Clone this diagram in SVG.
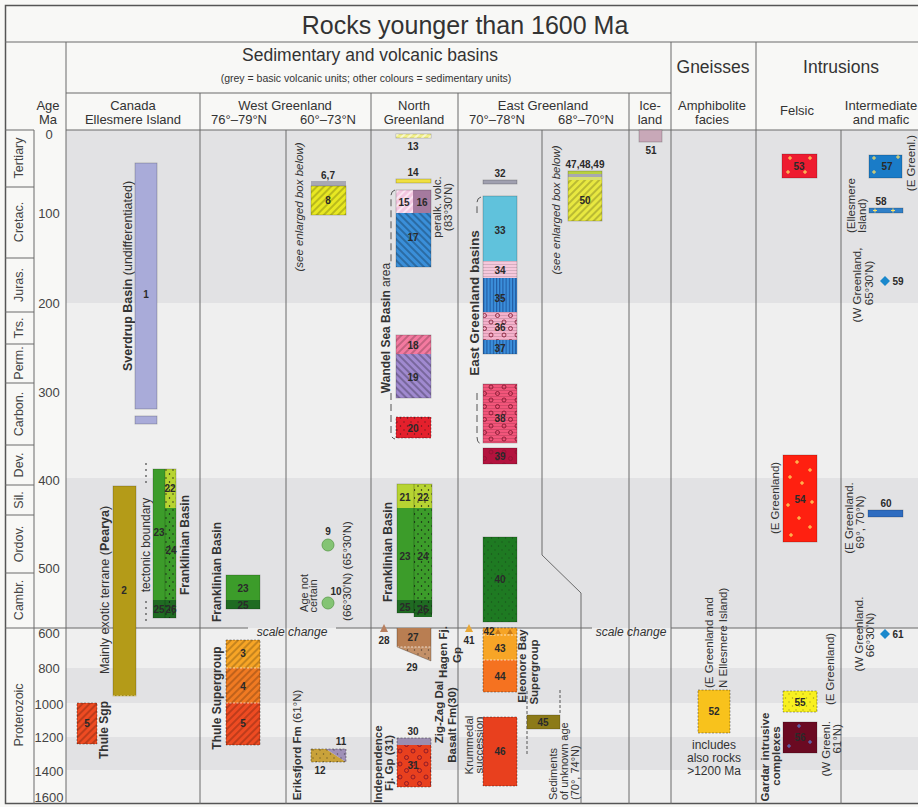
<svg xmlns="http://www.w3.org/2000/svg" width="918" height="807" viewBox="0 0 918 807">
<defs>
<style>
text{font-family:"Liberation Sans",Arial,sans-serif;fill:#333}
.ttl{font-size:25px;text-anchor:middle}
.h1{font-size:17.5px;text-anchor:middle}
.sub{font-size:10.5px;text-anchor:middle}
.h2{font-size:13px;text-anchor:middle}
.inc{font-size:12px;text-anchor:middle}
.era{font-size:12.5px;text-anchor:middle;dominant-baseline:central;fill:#444}
.age{font-size:13px;text-anchor:middle;dominant-baseline:central;fill:#444}
.n{font-size:10px;font-weight:bold;text-anchor:middle;dominant-baseline:central;fill:#2a2a2a}
.r{font-size:11.5px;text-anchor:middle;dominant-baseline:central;fill:#333}
.r.s{text-anchor:start}
.r.e{text-anchor:end}
.b{font-weight:bold}
.it{font-style:italic}
.g{stroke:#6a6a6a;stroke-width:1;fill:none}
.bx{stroke:#000;stroke-opacity:.25;stroke-width:.8}
.dt{stroke-dasharray:2 1.5;stroke-opacity:.45}
.py{stroke:#ffe060;stroke-width:1;fill:none}
.pb{stroke:#5a7ad0;stroke-width:1;fill:none}
</style>
<pattern id="hF" width="5" height="5" patternUnits="userSpaceOnUse" patternTransform="rotate(45)"><rect width="2" height="5" fill="#000" fill-opacity="0.2"/></pattern>
<pattern id="hB" width="5" height="5" patternUnits="userSpaceOnUse" patternTransform="rotate(-45)"><rect width="2" height="5" fill="#000" fill-opacity="0.25"/></pattern>
<pattern id="hW" width="5" height="5" patternUnits="userSpaceOnUse" patternTransform="rotate(45)"><rect width="2" height="5" fill="#fff" fill-opacity="0.55"/></pattern>
<pattern id="dots" width="7" height="8" patternUnits="userSpaceOnUse"><circle cx="1.5" cy="2" r="0.75" fill="#111"/><circle cx="5" cy="6" r="0.7" fill="#111"/></pattern>
<pattern id="circ" width="13" height="13" patternUnits="userSpaceOnUse"><circle cx="3.5" cy="3.5" r="2" fill="none" stroke="#7a1028" stroke-width="0.8"/><circle cx="10" cy="10" r="2" fill="none" stroke="#7a1028" stroke-width="0.8"/></pattern>
<pattern id="hl" width="4" height="3" patternUnits="userSpaceOnUse"><rect width="4" height="1" fill="#000" fill-opacity="0.13"/></pattern>
<pattern id="vl" width="3.2" height="4" patternUnits="userSpaceOnUse"><rect width="1.1" height="4" fill="#0b2d70" fill-opacity="0.55"/></pattern>
</defs>

<rect width="918" height="807" fill="#f8f8f6"/>

<g id="bands">
<rect x="66" y="130" width="852" height="173" fill="#e2e2e4"/>
<rect x="66" y="303" width="852" height="175" fill="#efefef"/>
<rect x="66" y="478" width="852" height="150" fill="#e2e2e4"/>
<rect x="66" y="628" width="852" height="40" fill="#efefef"/>
<rect x="66" y="668" width="852" height="35" fill="#e2e2e4"/>
<rect x="66" y="703" width="852" height="34" fill="#efefef"/>
<rect x="66" y="737" width="852" height="33" fill="#e2e2e4"/>
<rect x="66" y="770" width="852" height="34" fill="#efefef"/>
</g>

<g id="grid" class="g">
<rect x="5.5" y="5.5" width="930" height="798" stroke="#555" stroke-width="1.5"/>
<path d="M5 42H918M66 93H671M5 130H34M66 130H918"/>
<path d="M34 130V804M66 42V804M200 93V804M286 130V804M371 93V804M458 93V804M629 93V804M671 42V804M756 42V804M841 130V804"/>
<path d="M542 130V555L581 593V804"/>
<path d="M5 187H34M5 258H34M5 312H34M5 344H34M5 383H34M5 445H34M5 485H34M5 515H34M5 573H34"/>
<path d="M5 628H248M336 628H592M671 628H918"/>
</g>

<g id="title">
<text class="ttl" x="465" y="34">Rocks younger than 1600 Ma</text>
<text class="h1" x="370" y="61">Sedimentary and volcanic basins</text>
<text class="sub" x="366" y="82">(grey = basic volcanic units; other colours = sedimentary units)</text>
<text class="h1" x="713" y="73">Gneisses</text>
<text class="h1" x="841" y="73">Intrusions</text>
</g>

<g id="headers">
<text class="h2" x="48" y="109.5">Age</text>
<text class="h2" x="48" y="123.5">Ma</text>
<text class="h2" x="133" y="109.5">Canada</text>
<text class="h2" x="133" y="123.5">Ellesmere Island</text>
<text class="h2" x="285" y="109.5">West Greenland</text>
<text class="h2" x="239" y="123.5">76°–79°N</text>
<text class="h2" x="328" y="123.5">60°–73°N</text>
<text class="h2" x="414" y="109.5">North</text>
<text class="h2" x="414" y="123.5">Greenland</text>
<text class="h2" x="543" y="109.5">East Greenland</text>
<text class="h2" x="497" y="123.5">70°–78°N</text>
<text class="h2" x="586" y="123.5">68°–70°N</text>
<text class="h2" x="650" y="109.5">Ice-</text>
<text class="h2" x="650" y="123.5">land</text>
<text class="h2" x="712" y="109.5">Amphibolite</text>
<text class="h2" x="712" y="123.5">facies</text>
<text class="h2" x="797" y="115">Felsic</text>
<text class="h2" x="881" y="109.5">Intermediate</text>
<text class="h2" x="881" y="123.5">and mafic</text>
</g>

<g id="eras">
<text class="era" transform="translate(19,158) rotate(-90)">Tertiary</text>
<text class="era" transform="translate(19,222) rotate(-90)">Cretac.</text>
<text class="era" transform="translate(19,285) rotate(-90)">Juras.</text>
<text class="era" transform="translate(19,328) rotate(-90)">Trs.</text>
<text class="era" transform="translate(19,363) rotate(-90)">Perm.</text>
<text class="era" transform="translate(19,414) rotate(-90)">Carbon.</text>
<text class="era" transform="translate(19,465) rotate(-90)">Dev.</text>
<text class="era" transform="translate(19,500) rotate(-90)">Sil.</text>
<text class="era" transform="translate(19,544) rotate(-90)">Ordov.</text>
<text class="era" transform="translate(19,600) rotate(-90)">Cambr.</text>
<text class="era" transform="translate(19,715) rotate(-90)">Proterozoic</text>
</g>

<g id="ages">
<text class="age" x="49" y="134">0</text>
<text class="age" x="49" y="213">100</text>
<text class="age" x="49" y="303">200</text>
<text class="age" x="49" y="392">300</text>
<text class="age" x="49" y="480">400</text>
<text class="age" x="49" y="568">500</text>
<text class="age" x="49" y="633">600</text>
<text class="age" x="49" y="668">800</text>
<text class="age" x="49" y="704">1000</text>
<text class="age" x="49" y="737">1200</text>
<text class="age" x="49" y="771">1400</text>
<text class="age" x="49" y="797">1600</text>
</g>

<g id="connectors" fill="none" stroke="#555" stroke-width="1">
<path d="M146 463V487M146 601V622" stroke-dasharray="2 4" stroke-width="1.3"/>
<path d="M395 190Q391 191 391 196V264M391 393V433Q391 438 395 439" stroke-dasharray="7 4"/>
<path d="M481 197Q477 198 477 203V213M477 393V437Q477 443 481 444" stroke-dasharray="7 4"/>
<path d="M527 691V755M560 690V715" stroke-dasharray="3 2"/>
</g>

<g id="labels">
<text class="r" style="font-size:12.5px" transform="translate(128,276) rotate(-90)"><tspan class="b">Sverdrup Basin</tspan> (undifferentiated)</text>
<text class="r" style="font-size:12.5px" transform="translate(105,590) rotate(-90)">Mainly exotic terrane (<tspan class="b">Pearya</tspan>)</text>
<text class="r" style="font-size:12px" transform="translate(146,545) rotate(-90)">tectonic boundary</text>
<text class="r b" style="font-size:12px" transform="translate(185,545) rotate(-90)">Franklinian Basin</text>
<text class="r b" style="font-size:12px" transform="translate(104,730) rotate(-90)">Thule Sgp</text>
<text class="r b" style="font-size:12px" transform="translate(217,572) rotate(-90)">Franklinian Basin</text>
<text class="r b" style="font-size:12px" transform="translate(217,698) rotate(-90)">Thule Supergroup</text>
<text class="r it" transform="translate(299,207) rotate(-90)">(see enlarged box below)</text>
<text class="r" style="font-size:11px" transform="translate(304,593) rotate(-90)">Age not</text>
<text class="r" style="font-size:11px" transform="translate(313,596) rotate(-90)">certain</text>
<text class="r" transform="translate(347,571) rotate(-90)">(66°30'N) (65°30'N)</text>
<text class="r" transform="translate(297,745) rotate(-90)"><tspan class="b">Eriksfjord Fm</tspan> (61°N)</text>
<text class="r" style="font-size:12px" transform="translate(386,328) rotate(-90)"><tspan class="b">Wandel Sea Basin</tspan> area</text>
<text class="r" transform="translate(437,207) rotate(-90)">peralk. volc.</text>
<text class="r" transform="translate(448,207) rotate(-90)">(83°30'N)</text>
<text class="r b" style="font-size:12px" transform="translate(388,552) rotate(-90)">Franklinian Basin</text>
<text class="r b" transform="translate(443,652) rotate(-90)">Hagen Fj.</text>
<text class="r b" transform="translate(457,655) rotate(-90)">Gp</text>
<text class="r b" transform="translate(439,712) rotate(-90)">Zig-Zag Dal</text>
<text class="r b" transform="translate(452,725) rotate(-90)">Basalt Fm(30)</text>
<text class="r b" transform="translate(378,764) rotate(-90)">Independence</text>
<text class="r b" transform="translate(389,763) rotate(-90)">Fj. Gp (31)</text>
<text class="r" transform="translate(469,745) rotate(-90)">Krummedal</text>
<text class="r" transform="translate(479,745) rotate(-90)">succession</text>
<text class="r b" style="font-size:13.5px" transform="translate(474,303) rotate(-90)">East Greenland basins</text>
<text class="r b" transform="translate(522,666) rotate(-90)">Eleonore Bay</text>
<text class="r b" transform="translate(534,672) rotate(-90)">Supergroup</text>
<text class="r s" style="font-size:11px" transform="translate(553,800) rotate(-90)">Sediments</text>
<text class="r s" style="font-size:11px" transform="translate(564,800) rotate(-90)">of unknown age</text>
<text class="r s" style="font-size:11px" transform="translate(575,800) rotate(-90)">(70°, 74°N)</text>
<text class="r it" transform="translate(556,210) rotate(-90)">(see enlarged box below)</text>
<text class="r s" transform="translate(709,688) rotate(-90)">(E Greenland and</text>
<text class="r s" transform="translate(723,688) rotate(-90)">N Ellesmere Island)</text>
<text class="r" transform="translate(775,498) rotate(-90)">(E Greenland)</text>
<text class="r b" transform="translate(765,757) rotate(-90)">Gardar intrusive</text>
<text class="r b" transform="translate(776,756) rotate(-90)">complexes</text>
<text class="r" transform="translate(830,669) rotate(-90)">(E Greenland)</text>
<text class="r e" transform="translate(826,721) rotate(-90)">(W Greenl.</text>
<text class="r e" transform="translate(837,724) rotate(-90)">61°N)</text>
<text class="r" transform="translate(911,163) rotate(-90)">(E Greenl.)</text>
<text class="r s" transform="translate(851,233) rotate(-90)">(Ellesmere</text>
<text class="r s" transform="translate(862,233) rotate(-90)">Island)</text>
<text class="r" transform="translate(857,285) rotate(-90)">(W Greenland,</text>
<text class="r" transform="translate(869,283) rotate(-90)">65°30'N)</text>
<text class="r" transform="translate(849,518) rotate(-90)">(E Greenland.</text>
<text class="r" transform="translate(860,522) rotate(-90)">69°, 70°N)</text>
<text class="r" transform="translate(859,634) rotate(-90)">(W Greenland.</text>
<text class="r" transform="translate(870,635) rotate(-90)">66°30'N)</text>
<text class="inc" x="714" y="749">includes</text>
<text class="inc" x="714" y="762">also rocks</text>
<text class="inc" x="714" y="775">&gt;1200 Ma</text>
<text class="r it" style="font-size:12px" x="292" y="632">scale change</text>
<text class="r it" style="font-size:12px" x="631" y="632">scale change</text>
</g>

<g id="u1"><rect class="bx" x="135" y="163" width="22" height="246" fill="#a9abd9"/><rect class="bx" x="135" y="416" width="22" height="8" fill="#a9abd9"/><text class="n" x="146" y="294">1</text></g>
<g id="u2"><rect class="bx" x="113" y="486" width="23" height="210" fill="#b49b18"/><path d="M113 696H136" stroke="#f0e0a0" stroke-dasharray="2 1.5"/><text class="n" x="124" y="590">2</text></g>
<g id="u22-26c">
<rect x="153" y="469" width="12" height="131" fill="#3c9c2a"/>
<rect x="165" y="469" width="11" height="39" fill="#b7d432"/>
<rect x="165" y="508" width="11" height="92" fill="#3c9c2a"/>
<rect x="165" y="469" width="11" height="131" fill="url(#dots)"/>
<rect x="153" y="600" width="23" height="18" fill="#1f6b22"/>
<rect x="165" y="600" width="11" height="18" fill="url(#dots)"/>
<rect class="bx" x="153" y="469" width="23" height="149" fill="none"/>
<path d="M165 469V618" stroke="#000" stroke-opacity=".2"/>
<text class="n" x="170" y="488">22</text><text class="n" x="159" y="532">23</text><text class="n" x="171" y="550">24</text><text class="n" x="159" y="609">25</text><text class="n" x="171" y="609">26</text>
</g>
<g id="u5c"><rect class="bx dt" x="77" y="703" width="20" height="41" fill="#ee4b22"/><rect x="77" y="703" width="20" height="41" fill="url(#hF)"/><text class="n" x="87" y="723">5</text></g>

<g id="u23w"><rect x="226" y="575" width="34" height="25" fill="#3c9c2a"/><rect x="226" y="600" width="34" height="9" fill="#1f6b22"/><rect class="bx" x="226" y="575" width="34" height="34" fill="none"/><text class="n" x="243" y="588">23</text><text class="n" x="243" y="605">25</text></g>
<g id="u3-5w">
<rect x="226" y="640" width="34" height="28" fill="#f7a526"/>
<rect x="226" y="668" width="34" height="35" fill="#f07a22"/>
<rect x="226" y="703" width="34" height="42" fill="#ee4b22"/>
<rect x="226" y="640" width="34" height="105" fill="url(#hF)"/>
<rect class="bx dt" x="226" y="640" width="34" height="105" fill="none"/>
<path d="M226 668H260M226 703H260" stroke="#fff" stroke-opacity=".6" stroke-dasharray="2 1.5"/>
<text class="n" x="243" y="653">3</text><text class="n" x="243" y="686">4</text><text class="n" x="243" y="723">5</text>
</g>

<g id="u6-8"><rect x="311" y="181" width="35" height="5" fill="#a8a8b4"/><rect class="bx" x="311" y="186" width="35" height="29" fill="#e8e822"/><rect x="311" y="186" width="35" height="29" fill="url(#hF)"/><text class="n" x="328" y="175">6,7</text><text class="n" x="328" y="200">8</text></g>
<g id="u9"><circle cx="328" cy="545" r="6" fill="#84c474" stroke="#5a9a4a" stroke-width=".8"/><text class="n" x="328" y="531">9</text></g>
<g id="u10"><circle cx="328" cy="603" r="6" fill="#84c474" stroke="#5a9a4a" stroke-width=".8"/><text class="n" x="336" y="591">10</text></g>
<g id="u11-12"><polygon points="311,749 326,749 346,762 311,762" fill="#c9a23a"/><polygon points="326,749 346,749 346,762" fill="#9f90b8"/><rect x="311" y="749" width="35" height="13" fill="url(#dots)" opacity=".5"/><rect class="bx dt" x="311" y="749" width="35" height="13" fill="none"/><text class="n" x="341" y="741">11</text><text class="n" x="320" y="770">12</text></g>

<g id="u13"><rect class="bx" x="396" y="134" width="35" height="4" fill="#f2f08a"/><rect x="396" y="134" width="35" height="4" fill="url(#hW)"/><text class="n" x="413" y="146">13</text></g>
<g id="u14"><rect class="bx" x="396" y="179" width="35" height="4" fill="#f0e040"/><text class="n" x="413" y="172">14</text></g>
<g id="u15-17">
<rect x="396" y="190" width="17" height="23" fill="#f3c6e0"/><rect x="396" y="190" width="17" height="23" fill="url(#hW)"/>
<rect x="413" y="190" width="18" height="23" fill="#a57a9e"/>
<rect x="396" y="213" width="35" height="54" fill="#3a8fd9"/><rect x="396" y="213" width="35" height="54" fill="url(#hB)"/>
<rect class="bx" x="396" y="190" width="35" height="77" fill="none"/>
<text class="n" x="404" y="202">15</text><text class="n" x="422" y="202">16</text><text class="n" x="413" y="237" fill="#12306a">17</text>
</g>
<g id="u18-19">
<rect x="396" y="335" width="35" height="19" fill="#f47aa0"/><rect x="396" y="335" width="35" height="19" fill="url(#hF)"/>
<rect x="396" y="354" width="35" height="44" fill="#a08ad0"/><rect x="396" y="354" width="35" height="44" fill="url(#hB)"/>
<rect class="bx" x="396" y="335" width="35" height="63" fill="none"/>
<text class="n" x="413" y="345">18</text><text class="n" x="413" y="377">19</text>
</g>
<g id="u20"><rect class="bx dt" x="396" y="417" width="35" height="21" fill="#e4202c"/><rect x="396" y="417" width="35" height="21" fill="url(#dots)" opacity=".6"/><text class="n" x="413" y="428">20</text></g>
<g id="u21-26n">
<rect x="397" y="484" width="35" height="24" fill="#b7d432"/>
<rect x="397" y="508" width="35" height="92" fill="#3c9c2a"/>
<rect x="397" y="600" width="17" height="13" fill="#1f6b22"/>
<rect x="414" y="600" width="18" height="17" fill="#1f6b22"/>
<rect x="414" y="484" width="18" height="133" fill="url(#dots)"/>
<rect class="bx" x="397" y="484" width="35" height="129" fill="none"/>
<path d="M414 484V617" stroke="#000" stroke-opacity=".25"/>
<text class="n" x="405" y="497">21</text><text class="n" x="423" y="497">22</text><text class="n" x="405" y="556">23</text><text class="n" x="423" y="556">24</text><text class="n" x="405" y="607">25</text><text class="n" x="423" y="609">26</text>
</g>
<g id="u27-29">
<rect x="397" y="628" width="34" height="19" fill="#b97e52"/>
<polygon points="397,647 431,647 431,661" fill="#c39068"/>
<polygon points="397,647 431,647 431,661" fill="url(#dots)" opacity=".6"/>
<path d="M397 647H431" stroke="#fff" stroke-opacity=".7" stroke-dasharray="2 1.5"/>
<path d="M397 628V647L431 661V628" fill="none" stroke="#000" stroke-opacity=".25"/>
<text class="n" x="413" y="637">27</text><text class="n" x="412" y="667">29</text>
</g>
<g id="u28"><polygon points="380,632 388,632 384,624" fill="#b88060"/><text class="n" x="384" y="640">28</text></g>
<g id="u30-31">
<rect x="397" y="738" width="34" height="7" fill="#9c8eb0"/>
<rect x="397" y="745" width="34" height="42" fill="#e8401e"/><rect x="397" y="745" width="34" height="42" fill="url(#circ)"/>
<rect class="bx dt" x="397" y="738" width="34" height="49" fill="none"/>
<text class="n" x="413" y="731">30</text><text class="n" x="413" y="765">31</text>
</g>

<g id="u32"><rect class="bx" x="483" y="180" width="34" height="4" fill="#a0a0b0"/><text class="n" x="500" y="173">32</text></g>
<g id="u33-37">
<rect x="483" y="196" width="34" height="65" fill="#60c2dc"/>
<rect x="483" y="261" width="34" height="17" fill="#f5c8dc"/><rect x="483" y="261" width="34" height="17" fill="url(#hl)"/>
<rect x="483" y="278" width="34" height="34" fill="#3b8fdb"/><rect x="483" y="278" width="34" height="34" fill="url(#vl)"/>
<rect x="483" y="312" width="34" height="28" fill="#f5b1cb"/><rect x="483" y="312" width="34" height="28" fill="url(#hl)"/><rect x="483" y="312" width="34" height="28" fill="url(#circ)"/>
<rect x="483" y="340" width="34" height="14" fill="#3b8fdb"/><rect x="483" y="340" width="34" height="14" fill="url(#vl)"/>
<rect class="bx" x="483" y="196" width="34" height="158" fill="none"/>
<text class="n" x="500" y="230">33</text><text class="n" x="500" y="270">34</text><text class="n" x="500" y="298" fill="#12306a">35</text><text class="n" x="500" y="327">36</text><text class="n" x="500" y="348" fill="#12306a">37</text>
</g>
<g id="u38"><rect class="bx" x="483" y="384" width="34" height="59" fill="#f2557a"/><rect x="483" y="384" width="34" height="59" fill="url(#hl)"/><rect x="483" y="384" width="34" height="59" fill="url(#circ)"/><text class="n" x="500" y="418">38</text></g>
<g id="u39"><rect class="bx" x="483" y="448" width="34" height="16" fill="#b3123e"/><rect x="483" y="448" width="34" height="16" fill="url(#circ)" opacity=".7"/><text class="n" x="500" y="456">39</text></g>
<g id="u40"><rect class="bx" x="483" y="537" width="34" height="85" fill="#1e7a22"/><rect x="483" y="537" width="34" height="85" fill="url(#dots)" opacity=".35"/><text class="n" x="500" y="579">40</text></g>
<g id="u41"><polygon points="465,632 473,632 469,624" fill="#e8a838"/><text class="n" x="469" y="640">41</text></g>
<g id="u42-44">
<rect x="483" y="628" width="34" height="7" fill="#f7a526"/>
<rect x="483" y="635" width="34" height="25" fill="#f7a526"/>
<rect x="483" y="660" width="34" height="32" fill="#f57220"/>
<rect class="bx dt" x="483" y="628" width="34" height="64" fill="none"/>
<path d="M483 635H517M483 660H517" stroke="#fff" stroke-opacity=".7" stroke-dasharray="2 1.5"/>
<polygon points="495,634 501,634 498,629" fill="#c87a18"/><polygon points="507,634 513,634 510,629" fill="#c87a18"/>
<text class="n" x="489" y="631">42</text><text class="n" x="500" y="648">43</text><text class="n" x="500" y="676">44</text>
</g>
<g id="u45"><rect class="bx" x="527" y="715" width="33" height="14" fill="#8c7a18"/><text class="n" x="543" y="722">45</text></g>
<g id="u46"><rect class="bx dt" x="483" y="717" width="34" height="69" fill="#e8401e"/><text class="n" x="500" y="751">46</text></g>

<g id="u47-50">
<rect x="568" y="171" width="34" height="3" fill="#b8d040"/>
<rect x="568" y="174" width="34" height="3" fill="#a8a8b0"/>
<rect x="568" y="177" width="34" height="3" fill="#d8e070"/>
<rect x="568" y="180" width="34" height="41" fill="#e8e840"/><rect x="568" y="180" width="34" height="41" fill="url(#hF)"/>
<rect class="bx" x="568" y="171" width="34" height="50" fill="none"/>
<text class="n" x="585" y="164">47,48,49</text><text class="n" x="585" y="200">50</text>
</g>
<g id="u51"><rect class="bx" x="639" y="130" width="23" height="12" fill="#c8a8b8"/><text class="n" x="651" y="150">51</text></g>

<g id="u52"><rect class="bx dt" x="698" y="690" width="32" height="43" fill="#f8c21c"/><text class="n" x="714" y="711">52</text></g>

<g id="u53"><rect class="bx" x="782" y="154" width="35" height="24" fill="#ee1c30"/><path class="py" d="M788 158h4M790 156v4M808 158h4M810 156v4M786 172h4M788 170v4M803 172h4M805 170v4"/><text class="n" x="799" y="166">53</text></g>
<g id="u54"><rect class="bx" x="783" y="455" width="34" height="87" fill="#ff2010"/><path class="py" d="M795 462h4M797 460v4M808 470h4M810 468v4M788 477h4M790 475v4M800 483h4M802 481v4M786 505h4M788 503v4M810 502h4M812 500v4M797 518h4M799 516v4M808 527h4M810 525v4M789 535h4M791 533v4"/><text class="n" x="800" y="499">54</text></g>
<g id="u55"><rect class="bx dt" x="783" y="691" width="34" height="21" fill="#f8f020"/><rect x="783" y="691" width="34" height="21" fill="url(#dots)" opacity=".35"/><text class="n" x="800" y="702">55</text></g>
<g id="u56"><rect class="bx" x="783" y="722" width="34" height="31" fill="#6b0a22"/><path class="pb" d="M797 726h4M799 724v4M808 742h4M810 740v4M787 746h4M789 744v4"/><text class="n" x="800" y="737">56</text></g>

<g id="u57"><rect class="bx" x="869" y="155" width="33" height="23" fill="#1a7cc8"/><path class="py" d="M872 158h4M874 156v4M872 172h4M874 170v4M896 157h4M898 155v4"/><text class="n" x="887" y="166">57</text></g>
<g id="u58"><rect class="bx" x="869" y="208" width="34" height="5" fill="#3080c8"/><path class="py" d="M873 210.5h4M875 208.5v4M891 210.5h4M893 208.5v4"/><text class="n" x="881" y="201">58</text></g>
<g id="u59"><polygon points="885,276 890,281 885,286 880,281" fill="#1a88cc"/><text class="n" x="898" y="281">59</text></g>
<g id="u60"><rect class="bx" x="868" y="510" width="35" height="7" fill="#2e6cc0"/><text class="n" x="886" y="503">60</text></g>
<g id="u61"><polygon points="885,629 890,634 885,639 880,634" fill="#1a88cc"/><text class="n" x="898" y="634">61</text></g>
</svg>
